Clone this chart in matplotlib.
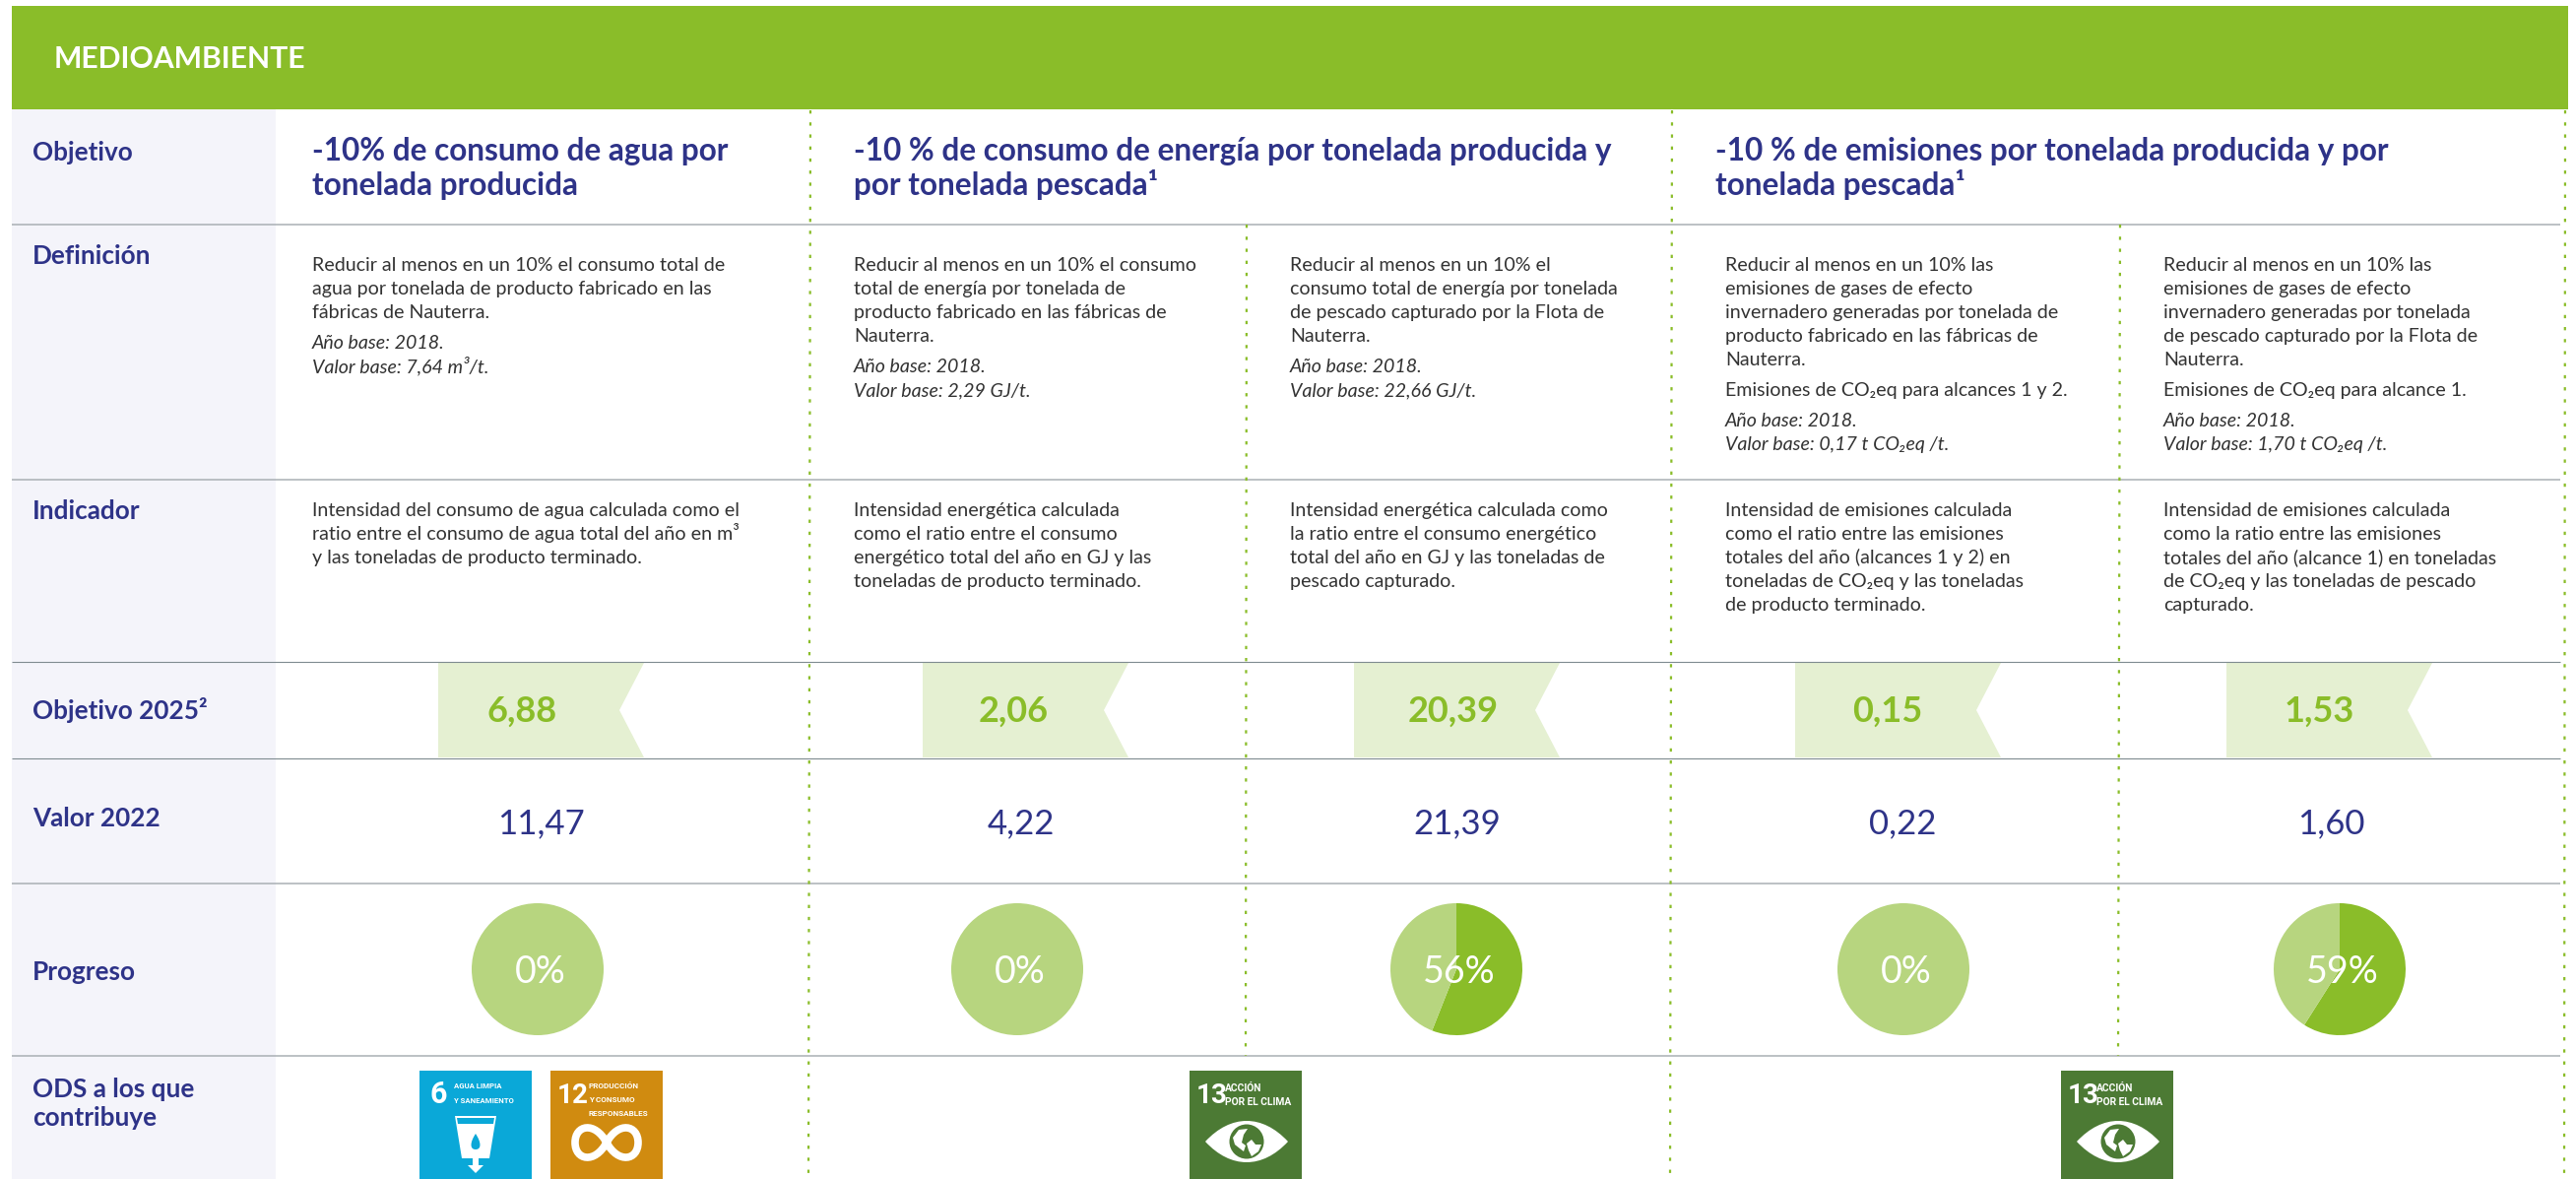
import matplotlib
matplotlib.use("Agg")
import matplotlib.pyplot as plt
from matplotlib.patches import Polygon, Rectangle, PathPatch, Circle
from matplotlib.path import Path

plt.rcParams['font.family'] = ['Lato', 'DejaVu Sans']

# datos de la tabla
seccion = "MEDIOAMBIENTE"
filas = ["Objetivo", "Definición", "Indicador", "Objetivo 2025²", "Valor 2022", "Progreso"]
fila_ods = ["ODS a los que", "contribuye"]
objetivos = [
    ["-10% de consumo de agua por", "tonelada producida"],
    ["-10 % de consumo de energía por tonelada producida y", "por tonelada pescada¹"],
    ["-10 % de emisiones por tonelada producida y por", "tonelada pescada¹"],
]
definiciones = [
    ["Reducir al menos en un 10% el consumo total de", "agua por tonelada de producto fabricado en las", "fábricas de Nauterra."],
    ["Reducir al menos en un 10% el consumo", "total de energía por tonelada de", "producto fabricado en las fábricas de", "Nauterra."],
    ["Reducir al menos en un 10% el", "consumo total de energía por tonelada", "de pescado capturado por la Flota de", "Nauterra."],
    ["Reducir al menos en un 10% las", "emisiones de gases de efecto", "invernadero generadas por tonelada de", "producto fabricado en las fábricas de", "Nauterra."],
    ["Reducir al menos en un 10% las", "emisiones de gases de efecto", "invernadero generadas por tonelada", "de pescado capturado por la Flota de", "Nauterra."],
]
alcances = [None, None, None, "Emisiones de CO₂eq para alcances 1 y 2.", "Emisiones de CO₂eq para alcance 1."]
valores_base = ["7,64 m³/t.", "2,29 GJ/t.", "22,66 GJ/t.", "0,17 t CO₂eq /t.", "1,70 t CO₂eq /t."]
anio_base = "2018."
indicadores = [
    ["Intensidad del consumo de agua calculada como el", "ratio entre el consumo de agua total del año en m³", "y las toneladas de producto terminado."],
    ["Intensidad energética calculada", "como el ratio entre el consumo", "energético total del año en GJ y las", "toneladas de producto terminado."],
    ["Intensidad energética calculada como", "la ratio entre el consumo energético", "total del año en GJ y las toneladas de", "pescado capturado."],
    ["Intensidad de emisiones calculada", "como el ratio entre las emisiones", "totales del año (alcances 1 y 2) en", "toneladas de CO₂eq y las toneladas", "de producto terminado."],
    ["Intensidad de emisiones calculada", "como la ratio entre las emisiones", "totales del año (alcance 1) en toneladas", "de CO₂eq y las toneladas de pescado", "capturado."],
]
objetivo_2025 = ["6,88", "2,06", "20,39", "0,15", "1,53"]
valor_2022 = ["11,47", "4,22", "21,39", "0,22", "1,60"]
progreso = [0, 0, 56, 0, 59]

# colores y posiciones (pixeles de la imagen)
VERDE = "#8abd29"
VERDE_CLARO = "#b7d57f"
VERDE_CINTA = "#e5f0d2"
AZUL = "#2e3388"
TEXTO = "#333333"
x_titulo = [317, 867, 1742]
x_texto = [317, 867, 1310, 1752, 2197]
x_cinta = [445, 937, 1375, 1823, 2261]
x_obj = [530, 1029, 1476, 1917, 2355]
x_val = [549, 1037, 1480, 1932, 2367]
x_pie = [546, 1033, 1479, 1933, 2376]
y_lineas = [228, 487, 672, 770, 897, 1072]
y_filas = [163, 268, 527, 730, 839, 995]

fig = plt.figure(figsize=(26.16, 11.97), dpi=100)
ax = fig.add_axes([0, 0, 1, 1])


def cuerpo(x, y, s, **kw):
    ax.text(x, y, s, fontsize=14.15, color=TEXTO, va='baseline', **kw)


ax.add_patch(Rectangle((12, 111), 268, 1086, color="#f4f4fa", lw=0))
ax.add_patch(Rectangle((12, 6), 2596, 105, color=VERDE, lw=0))
ax.text(55, 69, seccion, color="white", fontsize=21.7, fontweight='bold', va='baseline')

# lineas horizontales
for i, y in enumerate(y_lineas):
    oscura = y in (672, 770)
    ax.plot([12, 2600], [y, y], color="#7f8b90" if oscura else "#a9b0b4",
            lw=0.8 if oscura else 1.1, solid_capstyle='butt')

# lineas punteadas
punteado = (0, (1.5, 4))
for x0, x1, y0 in [(823, 821, 112), (1266, 1265, 228), (1698, 1696, 112), (2153, 2151, 228), (2605, 2604, 112)]:
    y1 = 1197 if y0 == 112 else 1072
    ax.plot([x0, x1], [y0, y1], color=VERDE, lw=1.6, linestyle=punteado)

# etiquetas de fila
for s, y in zip(filas, y_filas):
    ax.text(33, y, s, color=AZUL, fontsize=18.8, fontweight='bold', va='baseline')
ax.text(33, 1114, fila_ods[0], color=AZUL, fontsize=18.8, fontweight='bold', va='baseline')
ax.text(33, 1143, fila_ods[1], color=AZUL, fontsize=18.8, fontweight='bold', va='baseline')

# titulos
for x, lineas in zip(x_titulo, objetivos):
    ax.text(x, 163, lineas[0], color=AZUL, fontsize=22.7, fontweight='bold', va='baseline')
    ax.text(x, 198, lineas[1], color=AZUL, fontsize=22.7, fontweight='bold', va='baseline')

# definicion e indicador
for i, x in enumerate(x_texto):
    y = 275
    for s in definiciones[i]:
        cuerpo(x, y, s)
        y += 24
    y += 7
    if alcances[i]:
        cuerpo(x, y, alcances[i])
        y += 31
    cuerpo(x, y, "Año base: " + anio_base, fontstyle='italic')
    cuerpo(x, y + 24, "Valor base: " + valores_base[i], fontstyle='italic')
    y = 524
    for s in indicadores[i]:
        cuerpo(x, y, s)
        y += 24

# objetivo 2025
for x, xt, s in zip(x_cinta, x_obj, objetivo_2025):
    ax.add_patch(Polygon([(x, 673), (x + 209, 673), (x + 184, 721), (x + 209, 769), (x, 769)],
                         color=VERDE_CINTA, lw=0))
    ax.text(xt, 733, s, color=VERDE, fontsize=26, fontweight='bold', ha='center', va='baseline')

# valor 2022
for x, s in zip(x_val, valor_2022):
    ax.text(x, 846, s, color=AZUL, fontsize=25, ha='center', va='baseline')

# progreso
for x, p in zip(x_pie, progreso):
    # eje y invertido: counterclock se ve en sentido horario
    ax.pie([p, 100 - p], colors=[VERDE, VERDE_CLARO], center=(x, 984), radius=67,
           startangle=-90, counterclock=True, frame=True)
    ax.text(x + 3, 998, f"{p}%", color="white", fontsize=27, ha='center', va='baseline')


# iconos ODS
def rotulo(x, y, s, size):
    ax.text(x, y, s, color="white", fontsize=size, fontweight='bold', va='baseline', family='Roboto')


def icono_agua(x, y=1087):
    ax.add_patch(Rectangle((x, y), 114, 110, color="#0aa8d8", lw=0))
    rotulo(x + 10, y + 33, "6", 22)
    rotulo(x + 35, y + 18, "AGUA LIMPIA", 5.6)
    rotulo(x + 35, y + 33, "Y SANEAMIENTO", 5.6)
    ax.add_patch(Polygon([(x + 36, y + 46), (x + 78, y + 46), (x + 71, y + 89), (x + 43, y + 89)], color="white", lw=0))
    ax.add_patch(Polygon([(x + 38, y + 48), (x + 76, y + 48), (x + 75, y + 54), (x + 39, y + 54)], color="#0aa8d8", lw=0))
    gota = Path([(x + 57, y + 64), (x + 51, y + 73), (x + 51, y + 80), (x + 57, y + 80), (x + 63, y + 80), (x + 63, y + 73), (x + 57, y + 64)],
                [Path.MOVETO, Path.CURVE4, Path.CURVE4, Path.CURVE4, Path.CURVE4, Path.CURVE4, Path.CURVE4])
    ax.add_patch(PathPatch(gota, color="#0aa8d8", lw=0))
    ax.add_patch(Polygon([(x + 54, y + 89), (x + 60, y + 89), (x + 60, y + 96), (x + 65, y + 96), (x + 57, y + 104),
                          (x + 49, y + 96), (x + 54, y + 96)], color="white", lw=0))


def icono_consumo(x, y=1087):
    ax.add_patch(Rectangle((x, y), 114, 110, color="#d08b10", lw=0))
    rotulo(x + 7, y + 33, "12", 20)
    rotulo(x + 39, y + 18, "PRODUCCIÓN", 5.9)
    rotulo(x + 39, y + 32, "Y CONSUMO", 5.9)
    rotulo(x + 39, y + 46, "RESPONSABLES", 5.9)
    cx, cy = x + 57, y + 73
    ocho = Path([(cx, cy), (cx - 12, cy - 22), (cx - 32, cy - 18), (cx - 32, cy), (cx - 32, cy + 18), (cx - 12, cy + 22), (cx, cy),
                 (cx + 12, cy - 22), (cx + 32, cy - 18), (cx + 32, cy), (cx + 32, cy + 18), (cx + 12, cy + 22), (cx, cy)],
                [Path.MOVETO] + [Path.CURVE4] * 12)
    ax.add_patch(PathPatch(ocho, fc='none', ec="white", lw=5.5))


def icono_clima(x, y=1087):
    ax.add_patch(Rectangle((x, y), 114, 110, color="#4c7a34", lw=0))
    rotulo(x + 7, y + 33, "13", 20)
    rotulo(x + 36, y + 21, "ACCIÓN", 7.4)
    rotulo(x + 36, y + 35, "POR EL CLIMA", 7.4)
    cx, cy = x + 58, y + 72
    ojo = Path([(cx - 42, cy), (cx - 16, cy - 28), (cx + 16, cy - 28), (cx + 42, cy), (cx + 16, cy + 28), (cx - 16, cy + 28), (cx - 42, cy)],
               [Path.MOVETO] + [Path.CURVE4] * 6)
    ax.add_patch(PathPatch(ojo, color="white", lw=0))
    ax.add_patch(Circle((cx, cy), 17.5, color="#4c7a34", lw=0))
    ax.add_patch(Polygon([(cx - 14, cy - 4), (cx - 8, cy - 12), (cx + 1, cy - 13), (cx - 3, cy - 7), (cx - 5, cy + 1), (cx - 1, cy + 4),
                          (cx - 3, cy + 10), (cx - 7, cy + 7), (cx - 12, cy + 3)], color="white", lw=0))
    ax.add_patch(Polygon([(cx, cy + 2), (cx + 5, cy - 2), (cx + 9, cy + 3), (cx + 15, cy + 3), (cx + 12, cy + 10), (cx + 5, cy + 15),
                          (cx + 2, cy + 9)], color="white", lw=0))


icono_agua(426)
icono_consumo(559)
icono_clima(1208)
icono_clima(2093)

ax.set_xlim(0, 2616)
ax.set_ylim(1197, 0)
ax.set_aspect('auto')
ax.axis('off')
fig.savefig("out.png", dpi=100, facecolor="white")
